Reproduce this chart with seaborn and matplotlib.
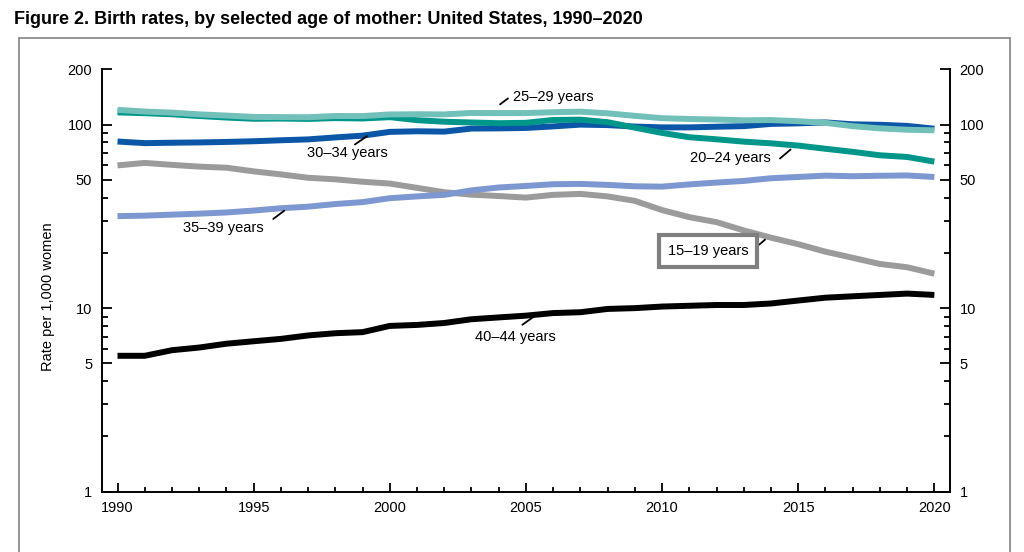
import matplotlib
matplotlib.use("Agg")
import matplotlib.pyplot as plt
from matplotlib.ticker import FixedLocator, NullFormatter
import pandas as pd
import seaborn as sns

sns.set_style("ticks")
plt.rcParams['font.family'] = ['Liberation Sans', 'DejaVu Sans']
plt.rcParams['text.color'] = 'black'
plt.rcParams['axes.labelcolor'] = 'black'
plt.rcParams['xtick.color'] = 'black'
plt.rcParams['ytick.color'] = 'black'
plt.rcParams['axes.edgecolor'] = 'black'

# Дані: народжуваність на 1000 жінок
years = list(range(1990, 2021))
age_groups = ['40–44 years', '15–19 years', '35–39 years', '30–34 years', '20–24 years', '25–29 years']

rate_15_19 = [59.9, 61.8, 60.3, 59.0, 58.2, 55.6, 53.5, 51.3, 50.3, 48.8, 47.7,
              45.2, 42.8, 41.5, 40.8, 40.0, 41.4, 41.9, 40.6, 38.4, 34.2,
              31.3, 29.4, 26.5, 24.2, 22.3, 20.3, 18.8, 17.4, 16.7, 15.4]
rate_20_24 = [116.5, 115.3, 113.7, 111.3, 109.2, 107.5, 107.8, 107.3, 108.4, 107.9, 109.7,
              105.6, 103.6, 102.6, 101.7, 102.2, 105.9, 106.3, 103.0, 96.2, 90.0,
              85.3, 83.1, 80.7, 79.0, 76.8, 73.8, 71.0, 68.0, 66.6, 62.8]
rate_25_29 = [120.2, 117.7, 116.1, 113.6, 111.9, 110.0, 109.8, 109.6, 111.3, 111.2, 113.5,
              113.8, 113.6, 115.6, 115.5, 115.5, 116.7, 117.5, 115.1, 111.5, 108.3,
              107.2, 106.5, 105.5, 105.8, 104.3, 102.1, 98.0, 95.3, 93.7, 93.0]
rate_30_34 = [80.8, 79.2, 79.6, 79.9, 80.4, 81.1, 82.1, 83.0, 85.1, 87.0, 91.2,
              91.9, 91.5, 95.1, 95.3, 95.8, 97.7, 99.9, 99.3, 97.5, 96.5,
              96.5, 97.3, 98.0, 100.8, 101.5, 102.7, 100.3, 99.7, 98.3, 94.9]
rate_35_39 = [31.7, 31.9, 32.3, 32.7, 33.2, 34.0, 35.0, 35.7, 36.9, 37.8, 39.7,
              40.6, 41.4, 43.8, 45.4, 46.3, 47.3, 47.5, 46.9, 46.1, 45.9,
              47.2, 48.3, 49.3, 51.0, 51.8, 52.7, 52.3, 52.6, 52.8, 51.8]
rate_40_44 = [5.5, 5.5, 5.9, 6.1, 6.4, 6.6, 6.8, 7.1, 7.3, 7.4, 8.0,
              8.1, 8.3, 8.7, 8.9, 9.1, 9.4, 9.5, 9.9, 10.0, 10.2,
              10.3, 10.4, 10.4, 10.6, 11.0, 11.4, 11.6, 11.8, 12.0, 11.8]

y_major = [1, 5, 10, 50, 100, 200]
y_minor = [2, 3, 4, 6, 7, 8, 9, 20, 30, 40, 60, 70, 80, 90]

colors = {
    '15–19 years': '#9b9b9b',
    '20–24 years': '#00968a',
    '25–29 years': '#72c0ba',
    '30–34 years': '#0b56a6',
    '35–39 years': '#7d97d1',
    '40–44 years': '#000000',
}

# підписи: (текст, x, y, ha, лінія-виноска x0, x1, y0, y1)
labels = [
    ('25–29 years', 2004.52, 140.6, 'left', 2004.05, 2004.34, 128.8, 138.8),
    ('30–34 years', 1998.45, 70.4, 'center', 1998.72, 1999.16, 77.9, 86.4),
    ('35–39 years', 1993.9, 27.35, 'center', 1995.72, 1996.13, 30.6, 34.0),
    ('20–24 years', 2012.52, 65.9, 'center', 2014.33, 2014.72, 65.3, 73.1),
    ('40–44 years', 2004.63, 6.94, 'center', 2004.87, 2005.27, 8.12, 8.94),
]
boxed_label = ('15–19 years', 2011.69, 20.57, 2013.57, 2013.78, 22.18, 23.6)

series = {
    '15–19 years': rate_15_19, '20–24 years': rate_20_24, '25–29 years': rate_25_29,
    '30–34 years': rate_30_34, '35–39 years': rate_35_39, '40–44 years': rate_40_44,
}
df = pd.concat([pd.DataFrame({'year': years, 'rate': v, 'age': k}) for k, v in series.items()])

fig = plt.figure(figsize=(10.24, 5.52), dpi=100)
ax = fig.add_axes([0.0996, 0.1092, 0.828, 0.7653])

sns.lineplot(data=df, x='year', y='rate', hue='age', hue_order=age_groups,
             palette=colors, linewidth=4.3, legend=False, ax=ax,
             solid_capstyle='butt')

ax.set_yscale('log')
ax.set_ylim(1, 200)
ax.set_xlim(1989.43, 2020.57)
ax.yaxis.set_major_locator(FixedLocator(y_major))
ax.yaxis.set_minor_locator(FixedLocator(y_minor))
ax.set_yticklabels([str(v) for v in y_major])
ax.yaxis.set_minor_formatter(NullFormatter())
ax.xaxis.set_major_locator(FixedLocator(list(range(1990, 2021, 5))))
ax.xaxis.set_minor_locator(FixedLocator(years))

ax.tick_params(axis='y', which='both', direction='in', left=True, right=True,
               labelleft=True, labelright=True, labelsize=10.5, pad=7, width=1.3)
ax.tick_params(axis='y', which='major', length=7)
ax.tick_params(axis='y', which='minor', length=4.5)
ax.tick_params(axis='x', which='both', direction='in', width=1.3, pad=7, labelsize=10.5)
ax.tick_params(axis='x', which='major', length=6.5)
ax.tick_params(axis='x', which='minor', length=3.8)

ax.spines['top'].set_visible(False)
for s in ['left', 'right', 'bottom']:
    ax.spines[s].set_linewidth(1.4)
    ax.spines[s].set_color('black')

ax.set_xlabel('')
ax.set_ylabel('Rate per 1,000 women', fontsize=10.5)
ax.yaxis.set_label_coords(-0.0554, 0.461)

for text, x, y, ha, x0, x1, y0, y1 in labels:
    ax.text(x, y, text, ha=ha, va='center', fontsize=10.5)
    ax.plot([x0, x1], [y0, y1], color='black', linewidth=1.3)

text, x, y, x0, x1, y0, y1 = boxed_label
ax.text(x, y, text, ha='center', va='center', fontsize=10.5,
        bbox=dict(boxstyle='square,pad=0.62', facecolor='white',
                  edgecolor='#7f7f7f', linewidth=3))
ax.plot([x0, x1], [y0, y1], color='black', linewidth=1.3)

fig.text(14 / 1024, 1 - 19 / 552, 'Figure 2. Birth rates, by selected age of mother: United States, 1990–2020',
         ha='left', va='center', fontsize=13, fontweight='bold')

# рамка навколо рисунка
frame_kw = dict(transform=fig.transFigure, color='#8c8c8c', linewidth=1.3)
fig.add_artist(plt.Line2D([19 / 1024, 1010 / 1024], [1 - 38 / 552, 1 - 38 / 552], **frame_kw))
fig.add_artist(plt.Line2D([19 / 1024, 19 / 1024], [1 - 38 / 552, 0], **frame_kw))
fig.add_artist(plt.Line2D([1010 / 1024, 1010 / 1024], [1 - 38 / 552, 0], **frame_kw))

fig.savefig('out.png', dpi=100)
